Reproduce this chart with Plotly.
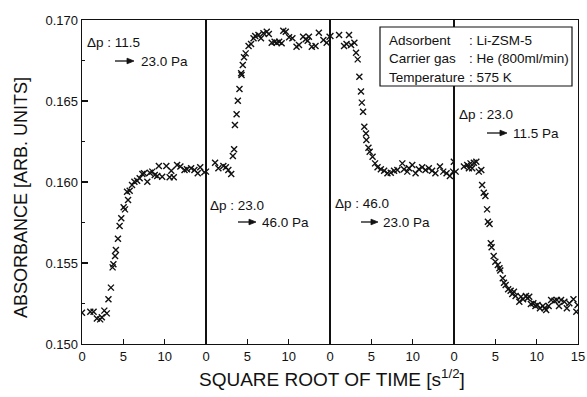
import plotly.graph_objects as go
from plotly.subplots import make_subplots

# ---- data (sqrt time [s^1/2], absorbance) ----
t1 = [0, 1.0, 1.4, 1.8, 2.2, 2.4, 2.7, 3.0, 3.2, 3.5, 3.7, 3.8, 4.0, 4.1, 4.35, 4.55, 4.75, 5.04, 5.2, 5.45,
      5.57, 5.77, 6.05, 6.34, 6.67, 6.98, 7.3, 7.5, 7.9, 8.2, 8.5, 8.8, 9.1, 9.3, 9.7, 10.2, 10.6, 10.8, 11.1, 11.5,
      11.9, 12.4, 12.7, 13.2, 13.6, 14.0, 14.3, 14.8]
y1 = [0.15193, 0.15199, 0.15199, 0.15158, 0.15152, 0.15165, 0.15206, 0.15189, 0.15276, 0.15348,
      0.15473, 0.15492, 0.15543, 0.15580, 0.15650, 0.15728, 0.15776, 0.15844, 0.15831, 0.15940,
      0.15889, 0.15946, 0.15981, 0.16002, 0.16008, 0.16023, 0.16049, 0.16054, 0.16002, 0.16057,
      0.16064, 0.16043, 0.16037, 0.16099, 0.16033, 0.16099, 0.16029, 0.16070, 0.16029, 0.16105,
      0.16095, 0.16074, 0.16078, 0.16085, 0.16074, 0.16054, 0.16091, 0.16060]

t2 = [0.0, 1.1, 1.5, 2.1, 2.4, 2.7, 3.05, 3.25, 3.4, 3.5, 3.7, 3.85, 4.05, 4.25, 4.3, 4.45, 4.6, 4.8, 5.15, 5.45,
      5.75, 5.95, 6.35, 6.65, 6.95, 7.35, 7.6, 7.95, 8.3, 8.55, 8.85, 9.15, 9.35, 9.65, 10.05, 10.45, 10.95, 11.25,
      11.75, 12.05, 12.3, 12.45, 12.8, 13.25, 13.65, 14.2, 14.6, 14.95]
y2 = [0.16064, 0.16119, 0.16085, 0.16099, 0.16091, 0.16074, 0.16049, 0.16160, 0.16202, 0.16352,
      0.16418, 0.16502, 0.16574, 0.16671, 0.16660, 0.16722, 0.16770, 0.16794, 0.16840, 0.16852,
      0.16887, 0.16901, 0.16907, 0.16887, 0.16918, 0.16928, 0.16914, 0.16860, 0.16866, 0.16860,
      0.16866, 0.16856, 0.16934, 0.16928, 0.16893, 0.16887, 0.16835, 0.16846, 0.16897, 0.16881,
      0.16872, 0.16897, 0.16835, 0.16840, 0.16922, 0.16877, 0.16860, 0.16897]

t3 = [0.05, 1.1, 1.7, 2.0, 2.3, 2.55, 2.95, 3.15, 3.35, 3.55, 3.75, 3.85, 4.0, 4.15, 4.35, 4.4, 4.65, 4.8, 5.15,
      5.45, 5.75, 6.15, 6.55, 6.95, 7.35, 7.75, 8.15, 8.75, 8.95, 9.35, 9.55, 9.95, 10.35, 10.75, 11.15, 11.55,
      11.95, 12.35, 12.75, 13.3, 13.7, 14.1, 14.5, 14.9, 14.98]
y3 = [0.16901, 0.16907, 0.16840, 0.16852, 0.16907, 0.16846, 0.16860, 0.16798, 0.16757, 0.16650,
      0.16558, 0.16490, 0.16434, 0.16341, 0.16300, 0.16259, 0.16212, 0.16187, 0.16156, 0.16115,
      0.16091, 0.16078, 0.16070, 0.16054, 0.16057, 0.16070, 0.16074, 0.16115, 0.16078, 0.16064,
      0.16085, 0.16105, 0.16054, 0.16078, 0.16091, 0.16074, 0.16085, 0.16070, 0.16054, 0.16095,
      0.16064, 0.16054, 0.16037, 0.16064, 0.16125]

t4 = [0.2, 1.2, 1.6, 1.8, 2.0, 2.2, 2.4, 2.7, 3.0, 3.3, 3.4, 3.6, 3.8, 4.0, 4.1, 4.3, 4.45, 4.55, 4.8, 5.0,
      5.3, 5.5, 5.6, 5.9, 6.05, 6.25, 6.55, 6.85, 7.05, 7.25, 7.45, 7.9, 8.1, 8.35, 8.7, 8.9, 9.1, 9.3, 9.6, 9.85,
      10.1, 10.4, 10.75, 10.95, 11.15, 11.45, 11.75, 12.15, 12.45, 12.7, 12.95, 13.35, 13.65, 13.95, 14.45, 14.8, 14.95]
y4 = [0.16064, 0.16095, 0.16105, 0.16085, 0.16115, 0.16085, 0.16119, 0.16125, 0.16064, 0.16074,
      0.15981, 0.15934, 0.15914, 0.15831, 0.15755, 0.15741, 0.15622, 0.15597, 0.15543, 0.15508,
      0.15488, 0.15467, 0.15453, 0.15406, 0.15378, 0.15364, 0.15338, 0.15329, 0.15309, 0.15323,
      0.15296, 0.15261, 0.15292, 0.15276, 0.15296, 0.15282, 0.15292, 0.15247, 0.15251, 0.15235,
      0.15241, 0.15220, 0.15235, 0.15220, 0.15210, 0.15235, 0.15272, 0.15267, 0.15272, 0.15235,
      0.15272, 0.15261, 0.15220, 0.15251, 0.15276, 0.15199, 0.15241]

y_ticks = [0.150, 0.155, 0.160, 0.165, 0.170]
x_ticks_inner = [0, 5, 10]
x_ticks_last = [0, 5, 10, 15]

panel_from = ["11.5", "23.0", "46.0", "23.0"]
panel_to = ["23.0 Pa", "46.0 Pa", "23.0 Pa", "11.5 Pa"]
info_labels = ["Adsorbent", "Carrier gas", "Temperature"]
info_values = [": Li-ZSM-5", ": He (800ml/min)", ": 575 K"]

FONT = "Liberation Sans, Arial, sans-serif"
BLACK = "#111111"

# body margin is removed in post_script, so figure pixels == page pixels
W, H = 587, 397
PL, PT, PR, PB = 82, 20, 578, 344          # plot area in page pixels
PW, PH = PR - PL, PB - PT
L, T, R, B = PL, PT, W - PR, H - PB


def px(x):
    return (x - PL) / PW


def py(y):
    return (PB - y) / PH


fig = make_subplots(rows=1, cols=4, shared_yaxes=True, horizontal_spacing=0)
for i, (tx, ty) in enumerate([(t1, y1), (t2, y2), (t3, y3), (t4, y4)], start=1):
    fig.add_trace(go.Scatter(x=tx, y=ty, mode="markers",
                             marker=dict(symbol="x-thin", size=6, color=BLACK,
                                         line=dict(width=1.4, color=BLACK)),
                             showlegend=False, hoverinfo="skip"), row=1, col=i)

for i in range(1, 5):
    fig.update_xaxes(range=[0, 15], tickvals=x_ticks_last if i == 4 else x_ticks_inner,
                     ticks="inside", ticklen=5, tickwidth=1.2, tickcolor=BLACK,
                     showline=True, mirror=True, linecolor=BLACK, linewidth=1.4,
                     showgrid=False, zeroline=False, automargin=False, ticklabeloverflow="allow",
                     tickfont=dict(family=FONT, size=13, color=BLACK), row=1, col=i)
    fig.update_yaxes(range=[0.150, 0.170], showline=True, mirror=True, linecolor=BLACK,
                     linewidth=1.4, showgrid=False, zeroline=False, automargin=False, row=1, col=i)

fig.update_yaxes(tickvals=y_ticks, tickformat=".3f", ticks="inside", ticklen=6, tickwidth=1.2,
                 tickcolor=BLACK, minor=dict(dtick=0.0025, ticks="inside", ticklen=3, tickcolor=BLACK),
                 tickfont=dict(family=FONT, size=13, color=BLACK), row=1, col=1)
for i in range(2, 5):
    fig.update_yaxes(showticklabels=False, ticks="", row=1, col=i)

ann = []
shapes = []
# axis titles
ann.append(dict(text="SQUARE ROOT OF TIME [s<sup>1/2</sup>]", x=px(332), y=py(378), xref="paper", yref="paper",
                xanchor="center", yanchor="middle", showarrow=False,
                font=dict(family=FONT, size=19, color=BLACK)))
ann.append(dict(text="ABSORBANCE [ARB. UNITS]", x=px(21), y=py(198), xref="paper", yref="paper",
                xanchor="center", yanchor="middle", textangle=-90, showarrow=False,
                font=dict(family=FONT, size=18, color=BLACK)))

# panel annotations: (dp_left, dp_y, arrow_start, arrow_end, text_left, arrow_y)
pos = [(85, 43, 115, 134, 139, 61),
       (208, 205, 238, 256, 260, 222),
       (333, 203, 361, 378, 381, 222),
       (457, 115, 487, 507, 511, 133)]
for k, (dl, dy, a0, a1, tl, ay) in enumerate(pos):
    ann.append(dict(text="\u0394p : " + panel_from[k], x=px(dl), y=py(dy), xref="paper", yref="paper",
                    xanchor="left", yanchor="middle", showarrow=False,
                    font=dict(family=FONT, size=13.5, color=BLACK)))
    ann.append(dict(text=panel_to[k], x=px(tl), y=py(ay), xref="paper", yref="paper",
                    xanchor="left", yanchor="middle", showarrow=False,
                    font=dict(family=FONT, size=13.5, color=BLACK)))
    # arrow: shaft + filled head
    shapes.append(dict(type="line", xref="paper", yref="paper", x0=px(a0), x1=px(a1 - 5),
                       y0=py(ay), y1=py(ay), line=dict(color=BLACK, width=1.3)))
    head = "M {:.5f},{:.5f} L {:.5f},{:.5f} L {:.5f},{:.5f} Z".format(
        px(a1), py(ay), px(a1 - 7), py(ay - 2.8), px(a1 - 7), py(ay + 2.8))
    shapes.append(dict(type="path", xref="paper", yref="paper", path=head,
                       fillcolor=BLACK, line=dict(color=BLACK, width=0.8)))

# info box
line_y = [41, 59, 77]
for k in range(3):
    ann.append(dict(text=info_labels[k], x=px(387), y=py(line_y[k]), xref="paper", yref="paper",
                    xanchor="left", yanchor="middle", showarrow=False,
                    font=dict(family=FONT, size=13.5, color=BLACK)))
    ann.append(dict(text=info_values[k], x=px(467), y=py(line_y[k]), xref="paper", yref="paper",
                    xanchor="left", yanchor="middle", showarrow=False,
                    font=dict(family=FONT, size=13.5, color=BLACK)))

shapes.insert(0, dict(type="rect", xref="paper", yref="paper", x0=px(380), x1=px(572), y0=py(86), y1=py(27),
                      line=dict(color=BLACK, width=1.2), fillcolor="white", layer="above"))

fig.update_layout(width=W, height=H, margin=dict(l=L, r=R, t=T, b=B, autoexpand=False),
                  paper_bgcolor="white", plot_bgcolor="white", hovermode=False,
                  annotations=ann, shapes=shapes)

fig.write_html("out.html", config={"displayModeBar": False, "staticPlot": True},
               post_script="document.body.style.margin='0';document.body.style.overflow='hidden';")
